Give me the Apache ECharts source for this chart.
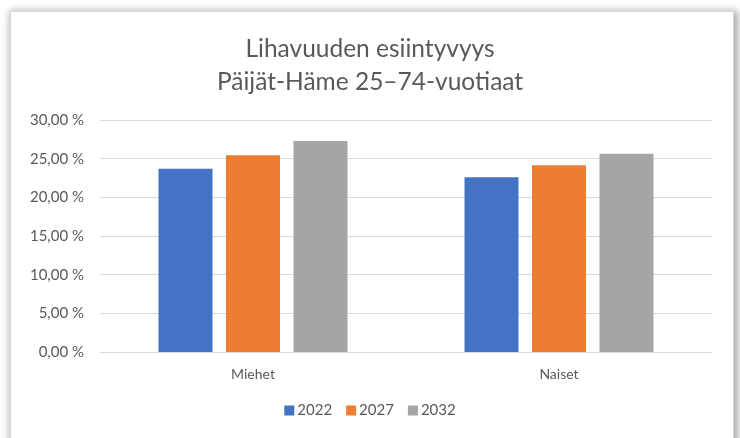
<!DOCTYPE html>
<html>
<head>
<meta charset="utf-8">
<script src="https://cdn.jsdelivr.net/npm/echarts@6/dist/echarts.min.js"></script>
<style>
  html, body { margin: 0; padding: 0; background: #fff; }
  #frame {
    position: absolute; left: 10px; top: 11px; width: 722px; height: 440px;
    border: 1px solid #d9d9d9; background: #fff;
    box-shadow: 2px 2px 8px 2px rgba(0,0,0,0.35);
  }
  #main { position: absolute; left: 0; top: 0; width: 740px; height: 438px; }
</style>
</head>
<body>
<div id="frame"></div>
<div id="main"></div>
<script>
var categories = ['Miehet', 'Naiset'];
var seriesNames = ['2022', '2027', '2032'];
var v2022 = [23.7, 22.6];
var v2027 = [25.45, 24.15];
var v2032 = [27.3, 25.65];
var colors = ['#4472C4', '#ED7D31', '#A5A5A5'];

var chart = echarts.init(document.getElementById('main'), null, { renderer: 'canvas' });

var font = 'Lato, "Noto Sans", sans-serif';
var data = [v2022, v2027, v2032];

var option = {
  animation: false,
  textStyle: { fontFamily: font },
  title: {
    text: 'Lihavuuden esiintyvyys\nPäijät-Häme 25–74-vuotiaat',
    left: 'center',
    top: 28,
    textStyle: { fontFamily: font, fontSize: 24.5, fontWeight: 'normal', color: '#595959', lineHeight: 33 }
  },
  legend: {
    data: seriesNames,
    bottom: 15,
    left: 'center',
    itemWidth: 10,
    itemHeight: 10,
    itemGap: 14,
    icon: 'rect',
    textStyle: { fontFamily: font, fontSize: 15, color: '#595959', padding: [0, 0, 0, -2] }
  },
  grid: { left: 100, right: 28, top: 120, bottom: 86 },
  xAxis: {
    type: 'category',
    data: categories,
    axisTick: { show: false },
    axisLine: { lineStyle: { color: '#d9d9d9' } },
    axisLabel: { color: '#595959', fontSize: 14, margin: 15 }
  },
  yAxis: {
    type: 'value',
    min: 0,
    max: 30,
    interval: 5,
    axisLine: { show: false },
    axisTick: { show: false },
    splitLine: { lineStyle: { color: '#d9d9d9' } },
    axisLabel: {
      color: '#595959', fontSize: 15, margin: 16,
      formatter: function (v) { return v.toFixed(2).replace('.', ',') + ' %'; }
    }
  },
  series: seriesNames.map(function (name, i) {
    return {
      name: name,
      type: 'bar',
      data: data[i],
      barWidth: 54,
      barGap: '25%',
      itemStyle: { color: colors[i] }
    };
  })
};
chart.setOption(option);
</script>
</body>
</html>
